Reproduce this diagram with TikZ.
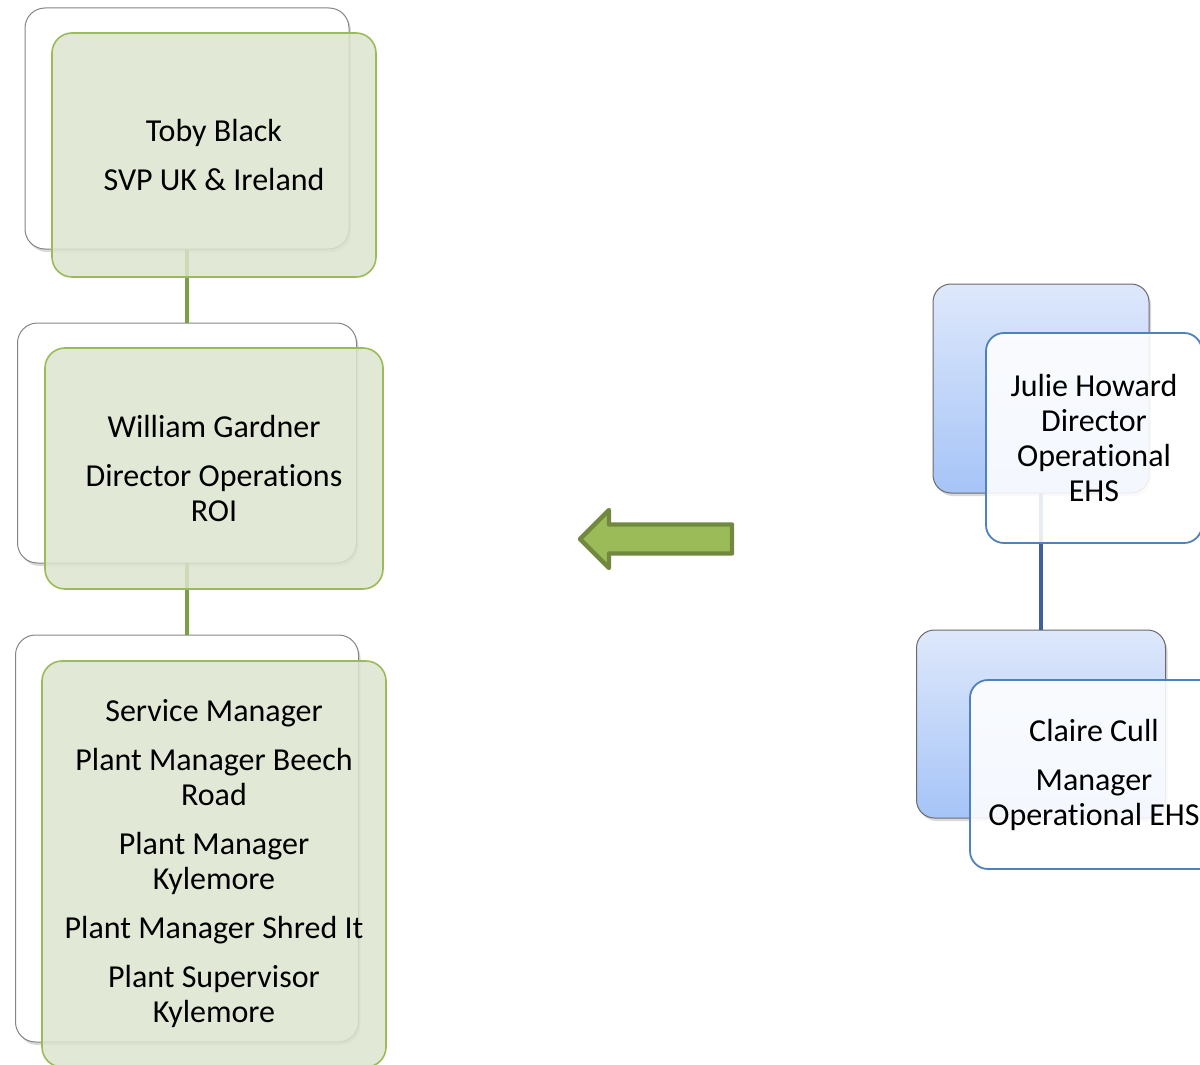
\documentclass[tikz,border=0pt]{standalone}
\usepackage{fontspec}
\setmainfont{Carlito}[RawFeature={-liga;-clig;-calt}]
\usetikzlibrary{shadows}

\definecolor{leafgreen}{HTML}{9BBB59}
\definecolor{leafdark}{HTML}{71893F}
\definecolor{stemgreen}{HTML}{7E9D46}
\definecolor{palegreen}{HTML}{DCE4CE}
\definecolor{boxgray}{HTML}{858585}
\definecolor{skyblue}{HTML}{4F81BD}
\definecolor{stemblue}{HTML}{3F6195}
\definecolor{bluetop}{HTML}{DEE8FB}
\definecolor{bluebottom}{HTML}{A6C4F7}

\begin{document}
\begin{tikzpicture}[x=0.5pt, y=-0.5pt, semithick, font=\fontsize{16}{17.5}\selectfont]
\tikzstyle{every node}=[inner sep=0pt, outer sep=0pt]
\tikzstyle{backbox}=[rectangle, rounded corners=10pt, draw=boxgray, line width=0.5pt, fill=white,
  drop shadow={shadow xshift=1pt, shadow yshift=-1.5pt, opacity=0.3}]
\tikzstyle{bluebox}=[backbox, rounded corners=9pt, top color=bluetop, bottom color=bluebottom, draw=boxgray!80!black]
\tikzstyle{greencard}=[rectangle, rounded corners=10pt, draw=leafgreen, line width=0.8pt, fill=palegreen,
  fill opacity=0.85, text opacity=1, align=center]
\tikzstyle{bluecard}=[rectangle, rounded corners=9pt, draw=skyblue, line width=0.9pt, fill=white,
  fill opacity=0.88, text opacity=1, align=center]
\tikzstyle{greenstem}=[draw=stemgreen, line width=2.2pt]
\tikzstyle{bluestem}=[draw=stemblue, line width=2pt]

\useasboundingbox (0,0) rectangle (1200,1065);
\clip (0,0) rectangle (1200,1065);

% left chain, back cards
\node[backbox, minimum width=162pt, minimum height=120.5pt] (b1) at (187,128.5) {};
\node[backbox, minimum width=169.5pt, minimum height=120pt] (b2) at (187,443) {};
\node[backbox, minimum width=171.5pt, minimum height=203.5pt] (b3) at (187,838.5) {};

% right chain, back cards
\node[bluebox, minimum width=108pt, minimum height=104.5pt] (r1) at (1041,388.5) {};
\node[bluebox, minimum width=124.5pt, minimum height=94pt] (r2) at (1041,724) {};

\path
(b1) edge[greenstem] (b2)
(b2) edge[greenstem] (b3)
(r1) edge[bluestem] (r2);

% front cards
\node[greencard, minimum width=162pt, minimum height=122pt] (t1) at (214,155)
  {Toby Black\\[7pt]SVP UK \& Ireland};
\node[greencard, minimum width=169pt, minimum height=120.5pt] (t2) at (214,468.5)
  {William Gardner\\[7pt]Director Operations\\ROI};
\node[greencard, minimum width=172pt, minimum height=203pt] (t3) at (214,864)
  {Service Manager\\[7pt]Plant Manager Beech\\Road\\[7pt]Plant Manager\\Kylemore\\[7pt]Plant Manager Shred It\\[7pt]Plant Supervisor\\Kylemore};
\node[bluecard, minimum width=108pt, minimum height=105pt] (s1) at (1094,438)
  {Julie Howard\\Director\\Operational\\EHS};
\node[bluecard, minimum width=124pt, minimum height=94.5pt] (s2) at (1094,774.5)
  {Claire Cull\\[7pt]Manager\\Operational EHS};

% arrow
\filldraw[fill=leafgreen, draw=leafdark, line width=2.2pt, line join=round]
  (580,539) -- (609,510) -- (609,524.5) -- (732,524.5) -- (732,553.5)
  -- (609,553.5) -- (609,568) -- cycle;

\end{tikzpicture}
\end{document}
